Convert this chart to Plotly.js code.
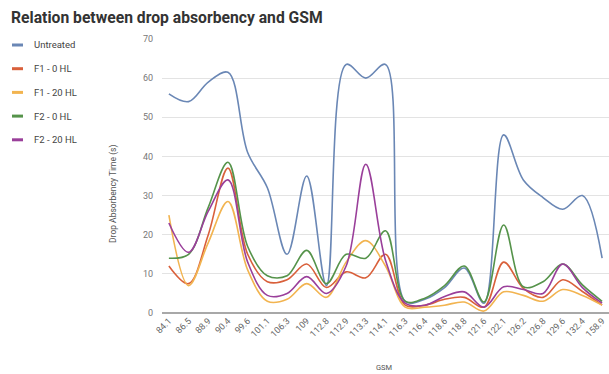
<!DOCTYPE html>
<html>
<head>
<meta charset="utf-8">
<script src="https://cdn.plot.ly/plotly-3.0.1.min.js"></script>
<style>
html,body{margin:0;padding:0;background:#fff;}
#chart{width:609px;height:374px;}
</style>
</head>
<body>
<div id="chart"></div>
<script>
// GSM categories (x axis)
var gsm = ['84.1','86.5','88.9','90.4','99.6','101.1','106.3','109','112.8','112.9','113.3','114.1','116.3','116.4','118.6','118.8','121.6','122.1','126.2','126.8','129.6','132.4','158.9'];

// Drop absorbency time (s) per series
var untreated = [56, 54, 59, 61.5, 41, 32, 15, 35, 7, 63.5, 60, 63.5, 3, 3.5, 6.5, 11.5, 2.5, 45.5, 34, 29.5, 26.5, 30, 14];
var f1_0hl    = [12, 7.5, 20, 37, 15, 8, 8.5, 12.5, 6.5, 10.5, 9, 15, 2, 2, 3.5, 4, 1.5, 13, 6.3, 4, 8.5, 5.5, 2];
var f1_20hl   = [25, 7, 18, 28.5, 11, 3, 3.5, 7.5, 4, 13, 18.5, 12, 1.5, 1.5, 2, 2.8, 0.5, 5.4, 4.5, 3, 6, 4.5, 2];
var f2_0hl    = [14, 15, 27, 38.5, 17, 9.5, 9.5, 16, 7.5, 15, 14, 21, 3, 3.8, 7, 12, 2.8, 22.5, 6.7, 8, 12.5, 7.2, 3];
var f2_20hl   = [23, 15.5, 26, 34, 13, 4.5, 5, 9.3, 5, 12, 38, 13.5, 2.5, 2, 4.2, 5.4, 1.5, 6.7, 6, 5, 12.5, 6.5, 2.5];

var seriesNames = ['Untreated', 'F1 - 0 HL', 'F1 - 20 HL', 'F2 - 0 HL', 'F2 - 20 HL'];
var seriesValues = [untreated, f1_0hl, f1_20hl, f2_0hl, f2_20hl];
var seriesColors = ['#6a87b5', '#d9603b', '#f2b450', '#55934a', '#9a3f9a'];

var traces = seriesNames.map(function(name, i){
  return {
    type: 'scatter', mode: 'lines', name: name,
    x: gsm, y: seriesValues[i],
    line: {color: seriesColors[i], width: 1.6, shape: 'spline', smoothing: 1},
    cliponaxis: true
  };
});

// custom legend (left column)
var L = 162, W = 447, T = 39, H = 274;
function px2x(p){ return (p - L) / W; }
function py2y(p){ return (T + H - p) / H; }
var shapes = [], annotations = [];
var legendTop = 45, legendStep = 23.7;
seriesNames.forEach(function(name, i){
  var yy = py2y(legendTop + i * legendStep);
  shapes.push({type:'line', xref:'paper', yref:'paper', x0:px2x(12), x1:px2x(23), y0:yy, y1:yy,
               line:{color:seriesColors[i], width:3}});
  annotations.push({xref:'paper', yref:'paper', x:px2x(32), y:yy, xanchor:'left', yanchor:'middle',
                    text:name, showarrow:false, font:{family:'Roboto, sans-serif', size:9.5, color:'#444'}});
});
annotations.push({xref:'paper', yref:'paper', x:px2x(113), y:py2y(194), xanchor:'center', yanchor:'middle',
                  text:'Drop Absorbency Time (s)', textangle:-90, showarrow:false,
                  font:{family:'Roboto, sans-serif', size:8.5, color:'#555'}});
annotations.push({xref:'paper', yref:'paper', x:px2x(384), y:py2y(367), xanchor:'center', yanchor:'middle',
                  text:'GSM', showarrow:false, font:{family:'Roboto, sans-serif', size:7.5, color:'#555'}});

var layout = {
  width: 609, height: 374,
  margin: {l: L, r: 0, t: T, b: 374 - T - H, pad: 0},
  paper_bgcolor: '#fff', plot_bgcolor: '#fff',
  showlegend: false,
  title: {text: '<b>Relation between drop absorbency and GSM</b>', x: 0, xref: 'container', xanchor: 'left',
          y: 1, yref: 'container', yanchor: 'top', pad: {l: 11, t: 12},
          font: {family: 'Roboto, sans-serif', size: 15.7, color: '#333'}},
  xaxis: {
    type: 'category', range: [-0.35, 22.35], tickangle: -45,
    tickfont: {family: 'Roboto, sans-serif', size: 9, color: '#666'},
    showgrid: false, showline: false, zeroline: false, ticks: '', fixedrange: true
  },
  yaxis: {
    range: [0, 70], dtick: 10, tick0: 0,
    tickfont: {family: 'Roboto, sans-serif', size: 9, color: '#777'},
    gridcolor: '#e3e3e3', gridwidth: 1,
    zeroline: true, zerolinecolor: '#a8a8a8', zerolinewidth: 2.5,
    showline: false, ticks: '', ticklabelstandoff: 8, fixedrange: true
  },
  shapes: shapes,
  annotations: annotations
};

Plotly.newPlot('chart', traces, layout, {displayModeBar: false, staticPlot: true});
</script>
</body>
</html>
